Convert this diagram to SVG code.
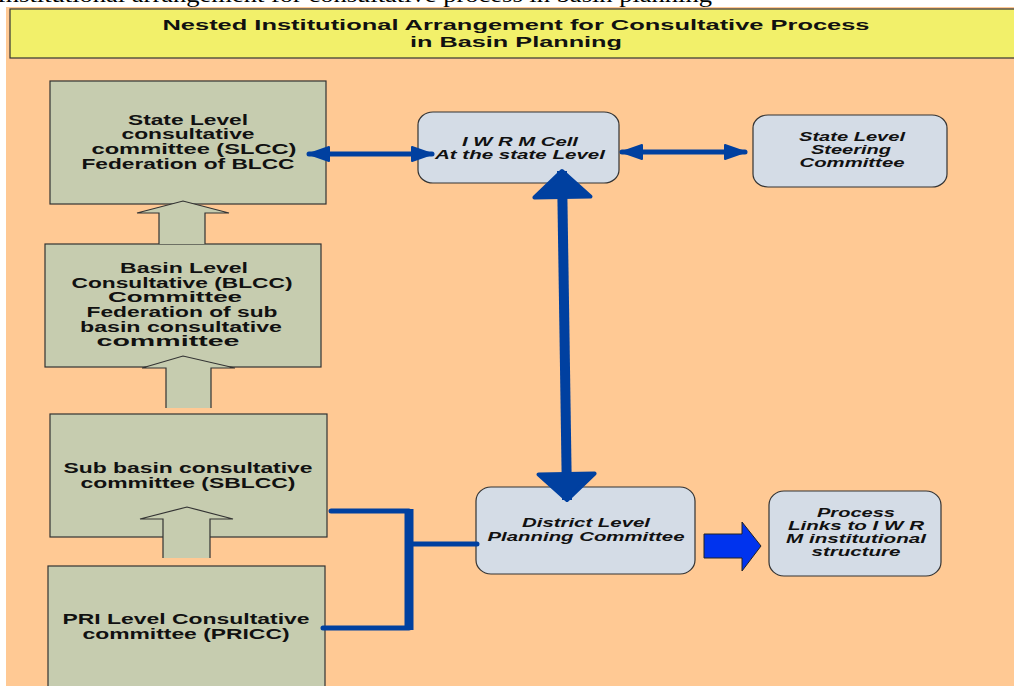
<svg xmlns="http://www.w3.org/2000/svg" width="1014" height="686" viewBox="0 0 1014 686">
<style>
.lb{fill:#C6CCAF;stroke:#333;stroke-width:1.2}
.rb{fill:#D4DCE6;stroke:#333;stroke-width:1.2}
.bt{font-family:"Liberation Sans",Arial,sans-serif;font-weight:bold;font-size:14px;fill:#111;text-anchor:middle}
.it{font-family:"Liberation Sans",Arial,sans-serif;font-weight:bold;font-style:italic;font-size:13px;fill:#111;text-anchor:middle}
.tt{font-family:"Liberation Sans",Arial,sans-serif;font-weight:bold;font-size:15px;fill:#111;text-anchor:middle}
.ba{fill:#C6CCAF;stroke:none}
.bo{fill:none;stroke:#333;stroke-width:1.2}
.con{fill:none;stroke:#0040A0;stroke-linecap:round;stroke-linejoin:round}
</style>
<defs>
<marker id="hd" markerUnits="userSpaceOnUse" viewBox="-2 -2 24 18" markerWidth="24" markerHeight="18" refX="20" refY="7" orient="auto-start-reverse">
<path d="M0,0 L20,7 L0,14 Z" fill="#0040A0" stroke="#0040A0" stroke-width="2" stroke-linejoin="round"/>
</marker>
<marker id="hb" markerUnits="userSpaceOnUse" viewBox="-3 -3 32 62" markerWidth="32" markerHeight="62" refX="26" refY="28" orient="auto-start-reverse">
<path d="M0,0 L26,28 L0,56 Z" fill="#0040A0" stroke="#0040A0" stroke-width="4" stroke-linejoin="round"/>
</marker>
</defs>
<rect x="0" y="0" width="1014" height="686" fill="#fff"/>
<text x="-3" y="2" font-family="'Liberation Serif','Times New Roman',serif" font-size="20" textLength="715" lengthAdjust="spacingAndGlyphs" fill="#000">Institutional arrangement for consultative process in basin planning</text>
<rect x="6" y="7" width="1010" height="681" fill="#FFC994"/>
<g id="title">
<rect x="10" y="9" width="1010" height="49" fill="#F2F06A" stroke="#333" stroke-width="1.2"/>
<text class="tt" x="516" y="30" textLength="707" lengthAdjust="spacingAndGlyphs">Nested Institutional Arrangement for Consultative Process</text>
<text class="tt" x="516" y="47" textLength="212" lengthAdjust="spacingAndGlyphs">in Basin Planning</text>
</g>
<g id="slcc">
<rect class="lb" x="50" y="81" width="276" height="123"/>
<text class="bt" x="188" y="125" textLength="120" lengthAdjust="spacingAndGlyphs">State Level</text>
<text class="bt" x="188" y="139" textLength="133" lengthAdjust="spacingAndGlyphs">consultative</text>
<text class="bt" x="194" y="154" textLength="205" lengthAdjust="spacingAndGlyphs">committee (SLCC)</text>
<text class="bt" x="188" y="169" textLength="213" lengthAdjust="spacingAndGlyphs">Federation of BLCC</text>
</g>
<g id="blcc">
<rect class="lb" x="45" y="244" width="276" height="123"/>
<text class="bt" x="184" y="273" textLength="128" lengthAdjust="spacingAndGlyphs">Basin Level</text>
<text class="bt" x="182" y="288" textLength="221" lengthAdjust="spacingAndGlyphs">Consultative (BLCC)</text>
<text class="bt" x="175" y="302" textLength="134" lengthAdjust="spacingAndGlyphs">Committee</text>
<text class="bt" x="182" y="317" textLength="191" lengthAdjust="spacingAndGlyphs">Federation of sub</text>
<text class="bt" x="181" y="332" textLength="202" lengthAdjust="spacingAndGlyphs">basin consultative</text>
<text class="bt" x="168" y="346" textLength="143" lengthAdjust="spacingAndGlyphs">committee</text>
</g>
<g id="arrow-blcc-slcc">
<polygon class="ba" points="159,244 159,213 137,213 183,201 229,213 205,213 205,244"/>
<polyline class="bo" points="159,244 159,213 137,213 183,201 229,213 205,213 205,244"/>
</g>
<g id="sblcc">
<rect class="lb" x="50" y="414" width="277" height="123"/>
<text class="bt" x="188" y="473" textLength="249" lengthAdjust="spacingAndGlyphs">Sub basin consultative</text>
<text class="bt" x="188" y="488" textLength="215" lengthAdjust="spacingAndGlyphs">committee (SBLCC)</text>
</g>
<g id="arrow-sblcc-blcc">
<polygon class="ba" points="166,408 166,368 142,368 183,356 235,368 211,368 211,408"/>
<polyline class="bo" points="166,408 166,368 142,368 183,356 235,368 211,368 211,408"/>
</g>
<g id="pricc">
<rect class="lb" x="48" y="566" width="277" height="130"/>
<text class="bt" x="186" y="624" textLength="247" lengthAdjust="spacingAndGlyphs">PRI Level Consultative</text>
<text class="bt" x="186" y="639" textLength="207" lengthAdjust="spacingAndGlyphs">committee (PRICC)</text>
</g>
<g id="arrow-pricc-sblcc">
<polygon class="ba" points="163,558 163,519 140,519 187,507 233,519 210,519 210,558"/>
<polyline class="bo" points="163,558 163,519 140,519 187,507 233,519 210,519 210,558"/>
</g>
<g id="iwrm">
<rect class="rb" x="418" y="112" width="201" height="71" rx="15" ry="13"/>
<text class="it" x="520" y="146" textLength="116" lengthAdjust="spacingAndGlyphs">I W R M Cell</text>
<text class="it" x="520" y="159" textLength="170" lengthAdjust="spacingAndGlyphs">At the state Level</text>
</g>
<g id="steering">
<rect class="rb" x="753" y="115" width="194" height="72" rx="15" ry="13"/>
<text class="it" x="852" y="141" textLength="106" lengthAdjust="spacingAndGlyphs">State Level</text>
<text class="it" x="851" y="154" textLength="80" lengthAdjust="spacingAndGlyphs">Steering</text>
<text class="it" x="852" y="167" textLength="105" lengthAdjust="spacingAndGlyphs">Committee</text>
</g>
<g id="district">
<rect class="rb" x="476" y="487" width="219" height="87" rx="15" ry="14"/>
<text class="it" x="586" y="527" textLength="128" lengthAdjust="spacingAndGlyphs">District Level</text>
<text class="it" x="586" y="541" textLength="197" lengthAdjust="spacingAndGlyphs">Planning Committee</text>
</g>
<g id="process">
<rect class="rb" x="769" y="491" width="172" height="85" rx="15" ry="14"/>
<text class="it" x="856" y="517" textLength="78" lengthAdjust="spacingAndGlyphs">Process</text>
<text class="it" x="856" y="530" textLength="136" lengthAdjust="spacingAndGlyphs">Links to I W R</text>
<text class="it" x="856" y="543" textLength="140" lengthAdjust="spacingAndGlyphs">M institutional</text>
<text class="it" x="856" y="556" textLength="89" lengthAdjust="spacingAndGlyphs">structure</text>
</g>
<g id="connectors">
<line class="con" x1="309" y1="154" x2="432" y2="154" stroke-width="5" marker-start="url(#hd)" marker-end="url(#hd)"/>
<line class="con" x1="622" y1="152" x2="745" y2="152" stroke-width="5" marker-start="url(#hd)" marker-end="url(#hd)"/>
<line x1="562" y1="171" x2="567" y2="500" stroke="#0040A0" stroke-width="10" marker-start="url(#hb)" marker-end="url(#hb)"/>
<path class="con" d="M331,511 H409 M409,628 H323 M409,544 H477" stroke-width="5"/>
<line x1="409" y1="509" x2="409" y2="630" stroke="#0040A0" stroke-width="9"/>
<polygon points="704,534 742,534 742,522 761,546 742,571 742,558 704,558" fill="#0033EE" stroke="#222" stroke-width="1"/>
</g>
</svg>
